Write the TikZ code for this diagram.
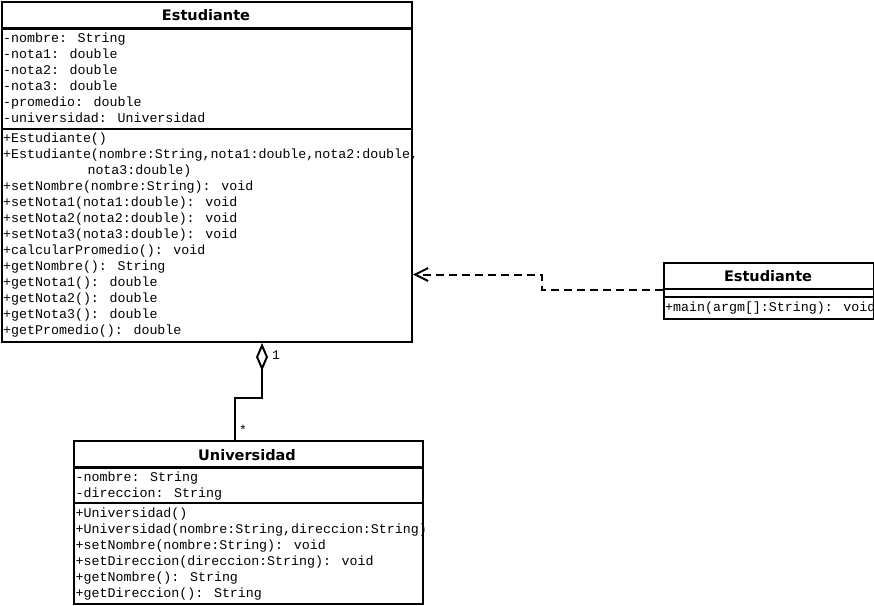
\documentclass[tikz,border=0pt]{standalone}
\usepackage{fontspec}
\setmainfont{DejaVu Sans}
\newfontfamily\umlmono{Liberation Mono}
\usetikzlibrary{arrows.meta}

\tikzset{
  classbox/.style={draw, line width=2.2pt, inner sep=0pt, anchor=north west},
  divider/.style={line width=2.2pt},
  classname/.style={font=\bfseries\fontsize{14.5}{16}\selectfont, inner sep=0pt, anchor=base},
  member/.style={font=\umlmono\fontsize{13.3}{16}\selectfont, inner sep=0pt, anchor=base west},
  mult/.style={font=\umlmono\fontsize{13}{15}\selectfont, inner sep=0pt, anchor=base west},
  dependency/.style={line width=2pt, dash pattern=on 8pt off 5pt,
    -{Straight Barb[length=13pt, width=13pt, line width=2pt]}},
  aggregation/.style={line width=2.2pt,
    {Diamond[open, length=28pt, width=12pt, line width=2pt]}-},
}

\begin{document}
\begin{tikzpicture}[x=1pt, y=-1pt]
  \useasboundingbox (0,0) rectangle (874,605);

  % ---- class Estudiante ----
  \node[classbox, minimum width=409.5pt, minimum height=339.5pt] (est) at (1,1) {};
  \draw[divider] (1,28.5) -- (410.5,28.5);
  \draw[divider] (1,129) -- (410.5,129);
  \node[classname] (estname) at (206,20.5) {Estudiante};
  \foreach \t [count=\i from 0] in {
      -nombre: String,
      -nota1: double,
      -nota2: double,
      -nota3: double,
      -promedio: double,
      -universidad: Universidad}
    \node[member] (ea\i) at (3,42+16*\i) {\t};
  \foreach \t [count=\i from 0] in {
      +Estudiante(),
      {+Estudiante(nombre:String,nota1:double,nota2:double,},
      {\hspace*{12ex}nota3:double)},
      +setNombre(nombre:String): void,
      +setNota1(nota1:double): void,
      +setNota2(nota2:double): void,
      +setNota3(nota3:double): void,
      +calcularPromedio(): void,
      +getNombre(): String,
      +getNota1(): double,
      +getNota2(): double,
      +getNota3(): double,
      +getPromedio(): double}
    \node[member] (em\i) at (3,142+16*\i) {\t};

  % ---- class Estudiante (main) ----
  \node[classbox, minimum width=210pt, minimum height=55.5pt] (main) at (662.7,262.2) {};
  \draw[divider] (662.7,288.7) -- (872.7,288.7);
  \draw[divider] (662.7,296.7) -- (872.7,296.7);
  \node[classname] (mainname) at (768,281.5) {Estudiante};
  \node[member] (mm0) at (665,311) {+main(argm[]:String): void};

  % ---- class Universidad ----
  \node[classbox, minimum width=348.7pt, minimum height=163pt] (uni) at (73,440) {};
  \draw[divider] (73,467.5) -- (421.7,467.5);
  \draw[divider] (73,503.3) -- (421.7,503.3);
  \node[classname] (uniname) at (247,460) {Universidad};
  \foreach \t [count=\i from 0] in {
      -nombre: String,
      -direccion: String}
    \node[member] (ua\i) at (75.5,481+16*\i) {\t};
  \foreach \t [count=\i from 0] in {
      +Universidad(),
      {+Universidad(nombre:String,direccion:String)},
      +setNombre(nombre:String): void,
      +setDireccion(direccion:String): void,
      +getNombre(): String,
      +getDireccion(): String}
    \node[member] (um\i) at (75.5,517+16*\i) {\t};

  % ---- dependency: main -> Estudiante ----
  \coordinate (depA) at (541.5,289.5);
  \coordinate (depB) at (541.5,274.5);
  \coordinate (depEnd) at (413,274.5);
  \draw[dependency] (main.west |- depA) -- (depA) -- (depB) -- (depEnd);

  % ---- aggregation: Universidad (*) -- Estudiante (1) ----
  \coordinate (aggTop) at (262,343);
  \coordinate (aggA) at (262,398);
  \coordinate (aggB) at (235,398);
  \draw[aggregation] (aggTop) -- (aggA) -- (aggB) -- (aggB |- uni.north);
  \node[mult] (m1) at (272,359) {1};
  \node[mult] (mstar) at (239,434) {*};
\end{tikzpicture}
\end{document}
